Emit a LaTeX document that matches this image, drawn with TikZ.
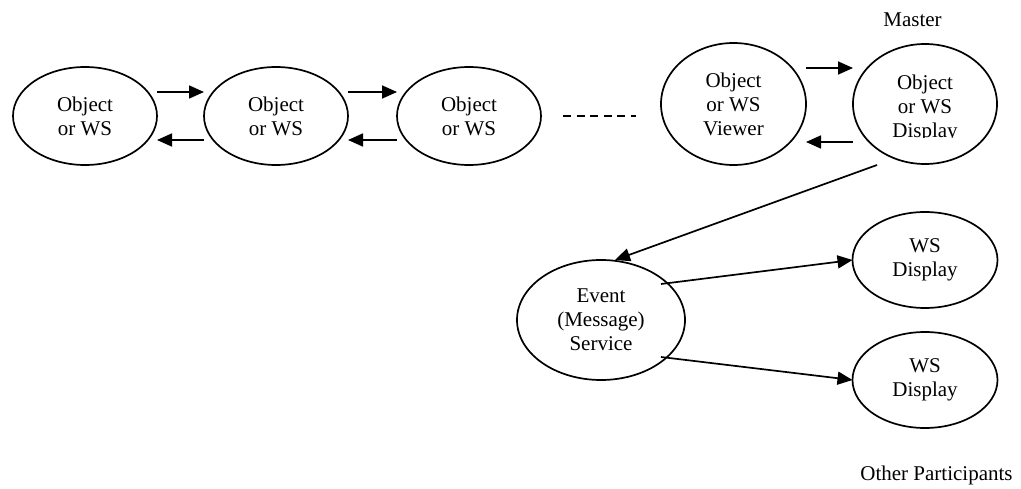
\documentclass[tikz,border=0pt]{standalone}
\usepackage{fontspec}
\setmainfont{Liberation Serif}
\usetikzlibrary{shapes.geometric,arrows.meta}
\begin{document}
\begin{tikzpicture}[x=1pt,y=-1pt,
  txt/.style={font=\fontsize{21}{24}\selectfont, align=center, inner sep=0pt},
  oval/.style={draw, ellipse, line width=1.7pt, inner sep=0pt, outer sep=0pt, txt},
  flow/.style={line width=1.7pt, -{Triangle[length=15pt,width=13pt]}},
]
\useasboundingbox (0,0) rectangle (1021,489);

% chain of objects / web services
\node[oval, minimum width=144pt, minimum height=98pt] (o1) at (85,116) {Object\\or WS};
\node[oval, minimum width=144pt, minimum height=98pt] (o2) at (276,116) {Object\\or WS};
\node[oval, minimum width=144pt, minimum height=98pt] (o3) at (469,116) {Object\\or WS};

\draw[flow] ([yshift=24pt]o1.east) -- ([yshift=24pt]o2.west);
\draw[flow] ([yshift=-24pt]o2.west) -- ([yshift=-24pt]o1.east);
\draw[flow] ([yshift=24pt]o2.east) -- ([yshift=24pt]o3.west);
\draw[flow] ([yshift=-24pt]o3.west) -- ([yshift=-24pt]o2.east);

% continuation of the chain
\coordinate (d1) at (563,116);
\coordinate (d2) at (636,116);
\draw[line width=1.7pt, dash pattern=on 8pt off 5.5pt] (d1) -- (d2);

% viewer and master display
\node[oval, minimum width=145pt, minimum height=122pt] (vw) at (733.5,104) {Object\\or WS\\Viewer};
\node[oval, minimum width=144pt, minimum height=120pt] (md) at (925,104) {};
\begin{scope}
  \clip (850,20) rectangle (1000,138);
  \node[txt] (mdtext) at (925,108) {Object\\or WS\\Display};
\end{scope}
\node[txt, anchor=base] (master) at (912.5,27) {Master};

\draw[flow] ([yshift=36pt]vw.east) -- ([yshift=36pt]md.west);
\draw[flow] ([yshift=-38pt]md.west) -- ([yshift=-38pt]vw.east);

% event service and other participants
\node[oval, minimum width=168pt, minimum height=120pt] (ev) at (601,320) {Event\\(Message)\\Service};
\node[oval, minimum width=145pt, minimum height=96pt] (wa) at (925,260) {WS\\Display};
\node[oval, minimum width=145pt, minimum height=96pt] (wb) at (925,380) {WS\\Display};
\node[txt, anchor=base] (others) at (936.5,480) {Other Participants};

\coordinate (ms) at (877,165);
\draw[flow] (ms) -- ([xshift=14pt]ev.north);
\draw[flow] ([xshift=60pt,yshift=36pt]ev.center) -- (wa.west);
\draw[flow] ([xshift=60pt,yshift=-37pt]ev.center) -- (wb.west);
\end{tikzpicture}
\end{document}
